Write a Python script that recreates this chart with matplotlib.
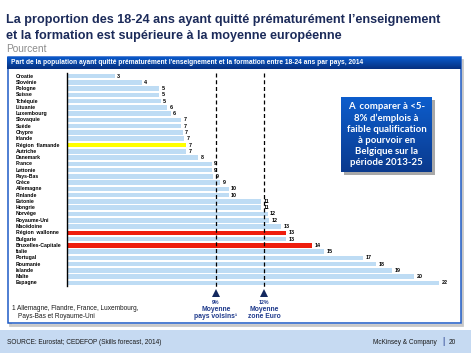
import matplotlib
matplotlib.use("Agg")
import matplotlib.pyplot as plt
import numpy as np
from matplotlib.transforms import blended_transform_factory
from matplotlib.patches import Rectangle

# ---------------- data ----------------
countries = ["Croatie", "Slovénie", "Pologne", "Suisse", "Tchéquie", "Lituanie",
             "Luxembourg", "Slovaquie", "Suède", "Chypre", "Irlande",
             "Région  flamande", "Autriche", "Danemark", "France", "Lettonie",
             "Pays-Bas", "Grèce", "Allemagne", "Finlande", "Estonie", "Hongrie",
             "Norvège", "Royaume-Uni", "Macédoine", "Région  wallonne", "Bulgarie",
             "Bruxelles-Capitale", "Italie", "Portugal", "Roumanie", "Islande",
             "Malte", "Espagne"]
values = [2.8, 4.4, 5.4, 5.4, 5.5, 5.9, 6.1, 6.7, 6.7, 6.8, 6.9, 7.0, 7.0, 7.7,
          8.5, 8.5, 8.6, 9.0, 9.5, 9.5, 11.4, 11.4, 11.8, 11.9, 12.6, 12.9, 12.9,
          14.4, 15.1, 17.4, 18.2, 19.1, 20.4, 21.9]
labels = ["3", "4", "5", "5", "5", "6", "6", "7", "7", "7", "7", "7", "7", "8",
          "9", "9", "9", "9", "10", "10", "11", "11", "12", "12", "13", "13", "13",
          "14", "15", "17", "18", "19", "20", "22"]
highlight = {"Région  flamande": "#FFFF00", "Région  wallonne": "#EE1E0E",
             "Bruxelles-Capitale": "#EE1E0E"}
avg_pos = [8.75, 11.6]
avg_pct = ["9%", "12%"]
avg_name = [["Moyenne", "pays voisins¹"], ["Moyenne", "zone Euro"]]

title_lines = ["La proportion des 18-24 ans ayant quitté prématurément l\u2019enseignement",
               "et la formation est supérieure à la moyenne européenne"]
subtitle = "Pourcent"
header = ("Part de la population ayant quitté prématurément l'enseignement et la formation "
          "entre 18-24 ans par pays, 2014")
callout = ("A  comparer à <5-\n8% d\u2019emplois à\nfaible qualification\nà pourvoir en\n"
           "Belgique sur la\npériode 2013-25")
footnote = ["1 Allemagne, Flandre, France, Luxembourg,", "Pays-Bas et Royaume-Uni"]
source = "SOURCE: Eurostat; CEDEFOP (Skills forecast, 2014)"

# ---------------- layout helpers ----------------
W, H = 471, 353
fig = plt.figure(figsize=(W / 100, H / 100), dpi=100)
fig.patch.set_facecolor("white")


def fx(p):
    return p / W


def fy(p):
    return 1 - p / H


def gradient_box(x0, y0, x1, y1, c_top, c_bot, z=2):
    a = fig.add_axes([fx(x0), fy(y1), fx(x1) - fx(x0), fy(y0) - fy(y1)], zorder=z)
    top = np.array(matplotlib.colors.to_rgb(c_top))
    bot = np.array(matplotlib.colors.to_rgb(c_bot))
    t = np.linspace(0, 1, 64)[:, None]
    img = top * (1 - t[..., None]) + bot * t[..., None]
    img = np.repeat(img, 2, axis=1)
    a.imshow(img, aspect="auto", extent=[0, 1, 0, 1], interpolation="bilinear")
    a.set_axis_off()
    return a


navy = "#1C2B5A"
blue_txt = "#1F3A8C"
frame_blue = "#1E5BC6"

# footer band
fig.patches.append(Rectangle((0, 0), 1, fy(330), transform=fig.transFigure,
                             facecolor="#C6DAF2", edgecolor="none", zorder=0))
# panel shadow + frame
fig.patches.append(Rectangle((fx(9.5), fy(325)), fx(461.5) - fx(9.5), fy(60) - fy(325),
                             transform=fig.transFigure, facecolor="none",
                             edgecolor="#C8C8C8", lw=2.0, zorder=0))
fig.patches.append(Rectangle((fx(7.5), fy(322.5)), fx(460.5) - fx(7.5), fy(57) - fy(322.5),
                             transform=fig.transFigure, facecolor="white",
                             edgecolor=frame_blue, lw=1.1, zorder=1))

# header bar
gradient_box(7, 57, 461, 69, "#0A5ACB", "#06307F", z=3)
fig.text(fx(11), fy(63), header, color="white", fontsize=4.75, fontweight="bold",
         family="Liberation Sans", va="center", ha="left", zorder=5)

# title
for k, line in enumerate(title_lines):
    fig.text(fx(6.5), fy(20 + 15.5 * k), line, color=navy, fontsize=9.1, fontweight="bold",
             family="Liberation Sans", va="center", ha="left")
fig.text(fx(6.5), fy(49), subtitle, color="#8C8C8C", fontsize=7.3,
         family="Liberation Sans", va="center", ha="left")

# ---------------- bar chart ----------------
n = len(countries)
x_left, px_unit = 67, 17.0
xmax = 22.5
y_top, y_bot = 72.9, 286.1
ax = fig.add_axes([fx(x_left), fy(y_bot), xmax * px_unit / W, (y_bot - y_top) / H], zorder=4)
ax.set_xlim(0, xmax)
ax.set_ylim(n - 0.5, -0.5)
ax.patch.set_alpha(0)
for s in ["top", "right", "bottom"]:
    ax.spines[s].set_visible(False)
ax.spines["left"].set_color("black")
ax.spines["left"].set_linewidth(1.0)
ax.set_xticks([])
ax.set_yticks([])

ypos = np.arange(n)
colors = [highlight.get(c, "#BEDCF4") for c in countries]
ax.barh(ypos, values, height=0.72, color=colors, edgecolor="none", zorder=2)

lab_tr = blended_transform_factory(fig.transFigure, ax.transData)
for i, (c, v, l) in enumerate(zip(countries, values, labels)):
    ax.text(fx(16), i, c, transform=lab_tr, fontsize=3.7, fontweight="bold",
            family="Liberation Sans", va="center", ha="left")
    ax.annotate(l, (v, i), xytext=(2.5, 0), textcoords="offset pixels",
                fontsize=3.9, fontweight="bold", family="Liberation Sans",
                va="center", ha="left", zorder=5)

# average lines
tr = blended_transform_factory(ax.transData, fig.transFigure)
for xp, pct, names in zip(avg_pos, avg_pct, avg_name):
    ax.plot([xp, xp], [fy(73), fy(289)], transform=tr, color="black", lw=0.9,
            ls=(0, (3.2, 2.2)), clip_on=False, zorder=6)
    ax.plot([xp], [fy(292.5)], transform=tr, marker="^", ms=6.2, color="#13285E",
            clip_on=False, zorder=6, markeredgewidth=0)
    ax.text(xp, fy(303), pct, transform=tr, fontsize=3.8, color=blue_txt,
            family="Liberation Sans", fontweight="bold", ha="center", va="center")
    ax.text(xp, fy(309.5), names[0], transform=tr, fontsize=4.9, color=blue_txt,
            family="Liberation Sans", fontweight="bold", ha="center", va="center")
    ax.text(xp, fy(317), names[1], transform=tr, fontsize=4.9, color=blue_txt,
            family="Liberation Sans", fontweight="bold", ha="center", va="center")

# footnote
fig.text(fx(12), fy(308), footnote[0], fontsize=4.7, family="Liberation Sans",
         color="#1a1a1a", va="center", ha="left")
fig.text(fx(18), fy(316.5), footnote[1], fontsize=4.7, family="Liberation Sans",
         color="#1a1a1a", va="center", ha="left")

# callout box
fig.patches.append(Rectangle((fx(343.5), fy(174.5)), fx(91), fy(97) - fy(172),
                             transform=fig.transFigure, facecolor="#A8A8A8",
                             edgecolor="none", zorder=2))
gradient_box(341, 97, 432, 172, "#0D5DCC", "#0A3A8E", z=6)
fig.text(fx(386.5), fy(134.5), callout, color="white", fontsize=6.9, fontweight="bold",
         family="Lato", ha="center", va="center", linespacing=1.3, zorder=10)

# footer texts
fig.text(fx(7), fy(342), source, fontsize=4.7, family="Liberation Sans",
         color="#1a1a1a", va="center", ha="left")
fig.text(fx(437), fy(342), "McKinsey & Company", fontsize=4.7, family="Liberation Sans",
         color="#1a1a1a", va="center", ha="right")
fig.text(fx(443), fy(342), "|", fontsize=6.5, family="Liberation Sans",
         color="#1F3A8C", va="center", ha="center")
fig.text(fx(449), fy(342), "20", fontsize=4.7, family="Liberation Sans",
         color="#1a1a1a", va="center", ha="left")

fig.savefig("out.png", dpi=100)
